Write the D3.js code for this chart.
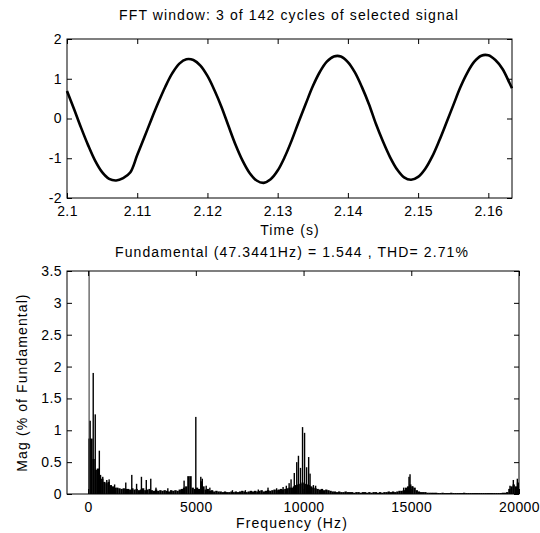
<!DOCTYPE html>
<html>
<head>
<meta charset="utf-8">
<script src="https://cdn.jsdelivr.net/npm/d3@7"></script>
<style>
  body { margin: 0; background: #fff; }
  text { font-family: "Liberation Sans", Arial, sans-serif; font-size: 14px; fill: #000; letter-spacing: 1.1px; }
</style>
</head>
<body>
<svg id="fig" width="540" height="533"></svg>
<script>
// ---- data ----
// signal, one sample per ms starting at 2.100 s, last one at the window end
const timeStart = 2.1;
const timeEnd = 2.16337;
const timeStep = 0.001;
const signalValues = [
  0.69, 0.24, -0.23, -0.67, -1.06, -1.35, -1.52, -1.56, -1.50, -1.36,
  -0.92, -0.48, -0.03, 0.40, 0.80, 1.14, 1.38, 1.49, 1.47, 1.33,
  1.07, 0.71, 0.29, -0.19, -0.66, -1.06, -1.37, -1.56, -1.62, -1.53,
  -1.31, -0.97, -0.55, -0.08, 0.37, 0.81, 1.17, 1.43, 1.56, 1.56,
  1.42, 1.16, 0.79, 0.36, -0.14, -0.58, -0.97, -1.28, -1.48, -1.54,
  -1.47, -1.27, -0.96, -0.56, -0.12, 0.33, 0.78, 1.15, 1.43, 1.58,
  1.59, 1.47, 1.25, 0.90, 0.76
];
const timeTicks = [2.1, 2.11, 2.12, 2.13, 2.14, 2.15, 2.16];
const signalTicks = [-2, -1, 0, 1, 2];

// spectrum: background level in 100 Hz bins, plus the separate spikes
const floorStepHz = 100;
const floorMag = [
  0.87, 0.87, 0.55, 0.38, 0.40, 0.30, 0.24, 0.19, 0.17, 0.19,
  0.14, 0.12, 0.10, 0.10, 0.09, 0.08, 0.09, 0.08, 0.08, 0.07,
  0.09, 0.07, 0.08, 0.06, 0.07, 0.09, 0.06, 0.07, 0.08, 0.06,
  0.05, 0.07, 0.05, 0.06, 0.05, 0.06, 0.05, 0.04, 0.06, 0.05,
  0.06, 0.05, 0.07, 0.08, 0.10, 0.12, 0.28, 0.28, 0.10, 0.08,
  0.10, 0.08, 0.20, 0.12, 0.07, 0.08, 0.05, 0.06, 0.04, 0.05,
  0.04, 0.04, 0.03, 0.04, 0.03, 0.03, 0.04, 0.03, 0.04, 0.03,
  0.04, 0.05, 0.04, 0.03, 0.04, 0.05, 0.04, 0.05, 0.04, 0.05,
  0.06, 0.04, 0.05, 0.06, 0.05, 0.06, 0.07, 0.06, 0.07, 0.08,
  0.07, 0.08, 0.09, 0.10, 0.10, 0.12, 0.14, 0.15, 0.16, 0.18,
  0.16, 0.15, 0.14, 0.12, 0.10, 0.09, 0.08, 0.07, 0.08, 0.06,
  0.07, 0.06, 0.05, 0.04, 0.04, 0.03, 0.04, 0.03, 0.03, 0.04,
  0.03, 0.03, 0.03, 0.02, 0.03, 0.03, 0.02, 0.03, 0.03, 0.02,
  0.03, 0.02, 0.03, 0.03, 0.02, 0.03, 0.02, 0.03, 0.03, 0.04,
  0.03, 0.04, 0.03, 0.04, 0.05, 0.05, 0.06, 0.10, 0.12, 0.15,
  0.12, 0.10, 0.06, 0.04, 0.03, 0.03, 0.03, 0.02, 0.02, 0.02,
  0.02, 0.02, 0.015, 0.015, 0.02, 0.015, 0.015, 0.015, 0.02, 0.015,
  0.015, 0.015, 0.015, 0.015, 0.02, 0.015, 0.015, 0.015, 0.015, 0.015,
  0.015, 0.015, 0.015, 0.015, 0.015, 0.015, 0.015, 0.015, 0.015, 0.015,
  0.015, 0.015, 0.02, 0.02, 0.03, 0.08, 0.12, 0.15, 0.12, 0.18
];
const peakHz = [
  47, 95, 237, 331, 521, 568, 680, 866, 975, 1230,
  1748, 2027, 2250, 2475, 2700, 2908, 3150, 3700, 4455, 4999,
  5230, 5300, 5480, 5650, 6700, 7300, 7900, 8350, 8750, 9050,
  9200, 9330, 9420, 9570, 9684, 9763, 9858, 9953, 10047, 10142,
  10237, 10302, 10457, 10560, 14647, 14895, 14942, 15050, 19582, 19737,
  19923
];
const peakMag = [
  100, 1.15, 1.9, 1.25, 0.68, 0.28, 0.27, 0.22, 0.23, 0.15,
  0.18, 0.30, 0.16, 0.27, 0.22, 0.24, 0.10, 0.09, 0.21, 1.21,
  0.27, 0.24, 0.13, 0.10, 0.06, 0.06, 0.07, 0.10, 0.09, 0.11,
  0.13, 0.17, 0.23, 0.33, 0.50, 0.60, 0.41, 1.05, 0.96, 0.42,
  0.58, 0.32, 0.14, 0.13, 0.10, 0.27, 0.31, 0.12, 0.13, 0.22,
  0.24
];
const freqTicks = [0, 5000, 10000, 15000, 20000];
const magTicks = [0, 0.5, 1, 1.5, 2, 2.5, 3, 3.5];

const svg = d3.select("#fig");

// MATLAB style box with ticks pointing inwards on all four sides
function drawBox(g, x, y, xTicks, yTicks, w, h) {
  g.append("g")
    .attr("transform", `translate(0,${h})`)
    .call(d3.axisBottom(x).tickValues(xTicks).tickSize(-5).tickPadding(8).tickFormat(d => String(d)))
    .call(a => a.select(".domain").remove());
  g.append("g")
    .call(d3.axisTop(x).tickValues(xTicks).tickSize(-5).tickFormat(""))
    .call(a => a.select(".domain").remove());
  g.append("g")
    .call(d3.axisLeft(y).tickValues(yTicks).tickSize(-5).tickPadding(5).tickFormat(d => String(d)))
    .call(a => a.select(".domain").remove());
  g.append("g")
    .attr("transform", `translate(${w},0)`)
    .call(d3.axisRight(y).tickValues(yTicks).tickSize(-5).tickFormat(""))
    .call(a => a.select(".domain").remove());
  g.selectAll(".tick line").attr("stroke", "#000");
  g.selectAll(".tick text")
    .attr("fill", "#000")
    .style("font-size", "14px")
    .style("letter-spacing", "0.4px")
    .style("font-family", "'Liberation Sans', Arial, sans-serif");
  g.append("rect")
    .attr("width", w).attr("height", h)
    .attr("fill", "none").attr("stroke", "#000").attr("stroke-width", 1);
}

// ---- top: time signal ----
const topBox = { left: 67, top: 39, width: 445, height: 159 };
const gTop = svg.append("g").attr("transform", `translate(${topBox.left},${topBox.top})`);
const xTime = d3.scaleLinear().domain([timeStart, timeEnd]).range([0, topBox.width]);
const ySig = d3.scaleLinear().domain([-2, 2]).range([topBox.height, 0]);

const sigPoints = signalValues.map((v, i) => [i < signalValues.length - 1 ? timeStart + i * timeStep : timeEnd, v]);
gTop.append("path")
  .datum(sigPoints)
  .attr("fill", "none")
  .attr("stroke", "#000")
  .attr("stroke-width", 2.6)
  .attr("stroke-linejoin", "round")
  .attr("d", d3.line().x(d => xTime(d[0])).y(d => ySig(d[1])).curve(d3.curveCatmullRom));

drawBox(gTop, xTime, ySig, timeTicks, signalTicks, topBox.width, topBox.height);

svg.append("text").attr("x", 289).attr("y", 20).attr("text-anchor", "middle")
  .text("FFT window: 3 of 142 cycles of selected signal");
svg.append("text").attr("x", 290).attr("y", 235).attr("text-anchor", "middle")
  .text("Time (s)");

// ---- bottom: spectrum ----
const botBox = { left: 67, top: 271, width: 452, height: 223 };
const gBot = svg.append("g").attr("transform", `translate(${botBox.left},${botBox.top})`);
const xFreq = d3.scaleLinear().domain([-980, 20000]).range([0, botBox.width]);
const yMag = d3.scaleLinear().domain([0, 3.5]).range([botBox.height, 0]);

gBot.append("clipPath").attr("id", "botClip")
  .append("rect").attr("width", botBox.width).attr("height", botBox.height);
const bars = gBot.append("g").attr("clip-path", "url(#botClip)");

const binW = xFreq(floorStepHz) - xFreq(0);
bars.selectAll(".floor")
  .data(floorMag)
  .enter()
  .append("rect")
  .attr("class", "floor")
  .attr("x", (d, i) => xFreq(i * floorStepHz))
  .attr("y", d => yMag(d))
  .attr("width", binW + 0.2)
  .attr("height", d => yMag(0) - yMag(d))
  .attr("fill", "#000");

const peaks = peakHz.map((f, i) => ({ f, m: peakMag[i] }));
bars.selectAll(".peak")
  .data(peaks)
  .enter()
  .append("rect")
  .attr("class", "peak")
  .attr("x", d => xFreq(d.f) - 0.7)
  .attr("y", d => yMag(Math.min(d.m, 3.6)))
  .attr("width", 1.4)
  .attr("height", d => yMag(0) - yMag(Math.min(d.m, 3.6)))
  .attr("fill", d => d.m > 3.5 ? "#666" : "#000");

drawBox(gBot, xFreq, yMag, freqTicks, magTicks, botBox.width, botBox.height);

svg.append("text").attr("x", 292).attr("y", 257).attr("text-anchor", "middle")
  .text("Fundamental (47.3441Hz) = 1.544 , THD= 2.71%");
svg.append("text").attr("x", 292).attr("y", 528).attr("text-anchor", "middle")
  .text("Frequency (Hz)");
svg.append("text")
  .attr("transform", `translate(27,${botBox.top + botBox.height / 2}) rotate(-90)`)
  .attr("text-anchor", "middle")
  .text("Mag (% of Fundamental)");
</script>
</body>
</html>
